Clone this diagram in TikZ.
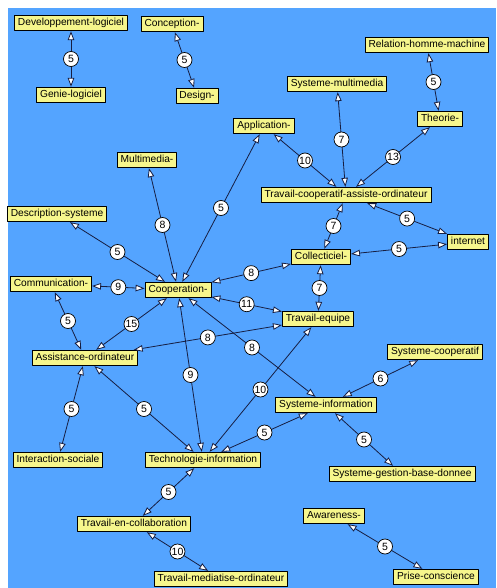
\documentclass[tikz,border=0pt]{standalone}
\usepackage{fontspec}
\setmainfont{Liberation Sans}
\usetikzlibrary{arrows.meta}
\definecolor{fond}{RGB}{84,164,255}
\definecolor{boite}{RGB}{246,246,140}
\definecolor{trait}{RGB}{22,30,66}
\tikzset{
	terme/.style={draw=black,fill=boite,line width=0.8pt,font=\fontsize{10.2}{12}\selectfont,inner xsep=3.5pt,inner ysep=3pt,text height=7.5pt,text depth=2pt},
	poids/.style={circle,draw=black,fill=white,line width=0.7pt,inner sep=0pt,minimum size=15pt,font=\fontsize{10.5}{12}\selectfont},
	lien/.style={<->,draw=trait,line width=0.8pt}
}
\begin{document}
\begin{tikzpicture}[x=1pt,y=-1pt,line join=round,>={Triangle[length=9pt,width=6.5pt,fill=white]}]
		\useasboundingbox (0,0) rectangle (496,588);
		\fill[fond] (8,8) rectangle (496,588);
		% termes
		\foreach \n/\p/\t in {DL/{(71,23)}/Developpement-logiciel, GL/{(71,95)}/Genie-logiciel,
			CO/{(172,24)}/Conception-, DE/{(197,96)}/Design-, AP/{(264,126)}/Application-,
			RH/{(427,45)}/Relation-homme-machine, SM/{(337,84)}/Systeme-multimedia, TH/{(440,119)}/Theorie-,
			MM/{(147,160)}/Multimedia-, DS/{(57,214)}/Description-systeme, CM/{(51,284)}/Communication-,
			CP/{(178,290)}/Cooperation-, TC/{(346,195)}/Travail-cooperatif-assiste-ordinateur,
			IN/{(468,242)}/internet, CL/{(321,257)}/Collecticiel-, TE/{(318,319)}/Travail-equipe,
			SC/{(435,352)}/Systeme-cooperatif, SI/{(326,405)}/Systeme-information,
			AO/{(85,358)}/Assistance-ordinateur, IS/{(58,460)}/Interaction-sociale,
			TI/{(203,460)}/Technologie-information, TL/{(134,524)}/Travail-en-collaboration,
			TM/{(221,579)}/Travail-mediatise-ordinateur, SG/{(402,474)}/Systeme-gestion-base-donnee,
			AW/{(334,516)}/Awareness-, PC/{(436,577)}/Prise-conscience}
		\node[terme] (\n) at \p {\t};
		% liens
		\foreach \a/\b/\w in {DL/GL/5, CO/DE/5, RH/TH/5, SM/TC/7, AP/TC/10, TH/TC/13, TC/IN/5,
			TC/CL/7, CL/IN/5, CL/CP/8, CL/TE/7, CP/TE/11, AP/CP/5, MM/CP/8, DS/CP/5, CM/CP/9,
			CM/AO/5, CP/AO/15, AO/TE/8, CP/TI/9, CP/SI/8, TE/TI/10, AO/TI/5, SI/TI/5, SC/SI/6,
			SI/SG/5, AO/IS/5, TI/TL/5, TL/TM/10, AW/PC/5}
		\draw[lien] (\a)--node[poids]{\w}(\b);
\end{tikzpicture}
\end{document}
